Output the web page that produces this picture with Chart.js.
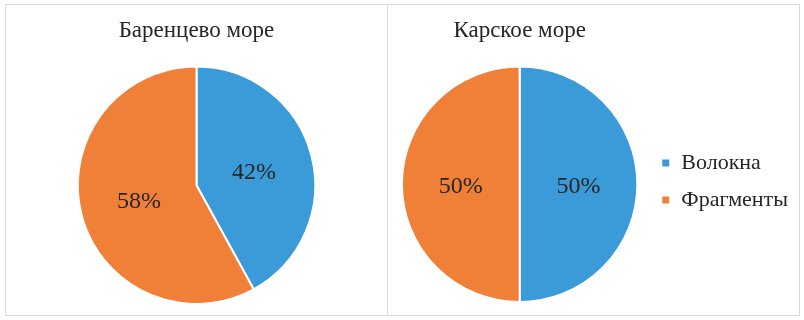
<!DOCTYPE html>
<html>
<head>
<meta charset="utf-8">
<script src="https://cdn.jsdelivr.net/npm/chart.js@4/dist/chart.umd.min.js"></script>
<style>
  body { margin: 0; background: #fff; width: 804px; height: 320px; position: relative; overflow: hidden; }
  .panel { position: absolute; top: 4px; height: 310px; border: 1px solid #d9d9d9; background: #fff; }
  #leftBox { left: 5px; width: 381px; }
  #rightBox { left: 387px; width: 411px; }
  canvas { display: block; }
</style>
</head>
<body>
<div class="panel" id="leftBox"><canvas id="barents"></canvas></div>
<div class="panel" id="rightBox"><canvas id="kara"></canvas></div>
<script>
var kategorii = ['Волокна', 'Фрагменты'];
var barentsevo = [42, 58];
var karskoe = [50, 50];
var cveta = ['#3b9bd9', '#f07f38'];

var serif = '"Liberation Serif", "DejaVu Serif", serif';

// подписи процентов в центре каждого сектора
var procenty = {
    id: 'procenty',
    afterDatasetsDraw: function(chart) {
        var ctx = chart.ctx;
        var meta = chart.getDatasetMeta(0);
        var data = chart.data.datasets[0].data;
        ctx.save();
        ctx.font = '24px ' + serif;
        ctx.fillStyle = '#262626';
        ctx.textAlign = 'center';
        ctx.textBaseline = 'middle';
        meta.data.forEach(function(arc, i) {
            var p = arc.tooltipPosition();
            ctx.fillText(data[i] + '%', p.x, p.y + 2);
        });
        ctx.restore();
    }
};

function pieChart(id, title, values, w, h, pad, legend) {
    var canvas = document.getElementById(id);
    canvas.width = w;
    canvas.height = h;
    return new Chart(canvas, {
        type: 'pie',
        data: {
            labels: kategorii,
            datasets: [{
                data: values,
                backgroundColor: cveta,
                borderColor: '#ffffff',
                borderWidth: 2
            }]
        },
        options: {
            responsive: false,
            animation: false,
            layout: { padding: pad },
            plugins: {
                title: {
                    display: true,
                    text: title,
                    fullSize: false,
                    color: '#262626',
                    font: { family: serif, size: 23, weight: 'normal' },
                    padding: { top: 12, bottom: 21 }
                },
                legend: {
                    display: legend,
                    position: 'right',
                    // пустой заголовок опускает подписи легенды к центру круга
                    title: { display: true, text: '', font: { size: 10 }, padding: { top: 0, bottom: 43 } },
                    labels: {
                        color: '#262626',
                        font: { family: serif, size: 22 },
                        boxWidth: 9,
                        boxHeight: 9,
                        padding: 15
                    }
                },
                tooltip: { enabled: false }
            }
        },
        plugins: [procenty]
    });
}

pieChart('barents', 'Баренцево море', barentsevo, 381, 310, { bottom: 10 }, false);
pieChart('kara', 'Карское море', karskoe, 411, 310, { left: 5, bottom: 12, right: 1 }, true);
</script>
</body>
</html>
